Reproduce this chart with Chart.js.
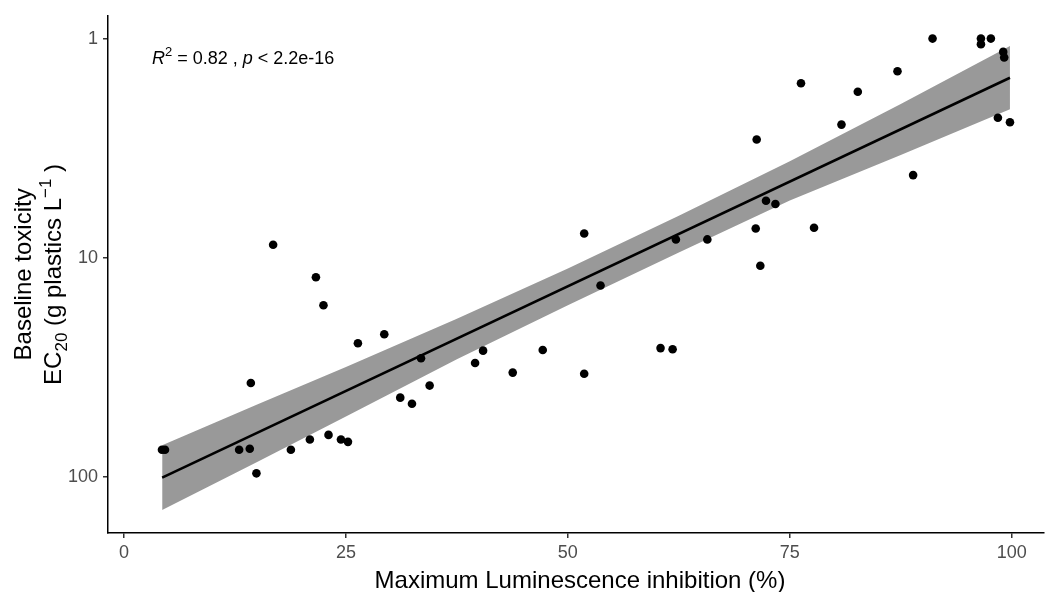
<!DOCTYPE html>
<html>
<head>
<meta charset="utf-8">
<script src="https://cdn.jsdelivr.net/npm/chart.js@4.4.1/dist/chart.umd.min.js"></script>
<style>
  body { margin: 0; background: #fff; }
  #wrap { width: 1048px; height: 592px; }
</style>
</head>
<body>
<div id="wrap"><canvas id="myChart"></canvas></div>
<script>
// measured points: max luminescence inhibition (%) vs EC20 (g plastics / L)
const inhibition = [
    4.28, 4.62, 12.97, 14.17, 14.29, 14.92, 16.80, 18.80, 20.94, 21.62,
    22.47, 23.04, 24.44, 25.23, 26.35, 29.32, 31.12, 32.44, 33.46, 34.43,
    39.55, 40.45, 43.79, 47.17, 51.84, 51.84, 53.68, 60.44, 61.80, 62.17,
    65.71, 71.16, 71.27, 71.68, 72.32, 73.38, 76.26, 77.73, 80.82, 82.66,
    87.13, 88.89, 91.08, 96.53, 96.53, 97.65, 98.44, 99.04, 99.15, 99.80
];
const ec20 = [
    75.4, 75.4, 75.4, 74.6, 37.4, 96.6, 8.73, 75.4, 67.7, 12.3,
    16.5, 64.5, 67.7, 69.4, 24.6, 22.4, 43.6, 46.5, 28.8, 38.4,
    30.3, 26.6, 33.5, 26.4, 7.76, 33.9, 13.4, 25.9, 26.2, 8.26,
    8.26, 7.36, 2.89, 10.9, 5.50, 5.69, 1.60, 7.31, 2.47, 1.75,
    1.41, 4.20, 1.00, 1.00, 1.06, 1.00, 2.30, 1.15, 1.22, 2.41
];

// fitted line and its confidence band
const fitX = [4.3, 99.8];
const fitY = [101, 1.51];
const bandX = [4.3, 15, 25, 37.5, 50, 62.5, 75, 87.5, 99.8];
const bandLow = [72, 46.8, 31.6, 19.0, 11.2, 6.44, 3.63, 1.99, 1.08];
const bandHigh = [142, 85.7, 53.2, 29.1, 16.5, 9.48, 5.49, 3.40, 2.10];

const xTicks = [0, 25, 50, 75, 100];
const yTicks = [1, 10, 100];

const FONT = '"Liberation Sans", Arial, Helvetica, sans-serif';

const pts = (xs, ys) => xs.map((x, i) => ({ x: x, y: ys[i] }));

// draw a run of text pieces (sub/superscripts, italics)
function runsWidth(ctx, runs) {
    let w = 0;
    runs.forEach(r => {
        ctx.font = (r.italic ? 'italic ' : '') + r.size + 'px ' + FONT;
        w += ctx.measureText(r.text).width;
    });
    return w;
}
function drawRuns(ctx, runs, x, y) {
    ctx.textAlign = 'left';
    ctx.textBaseline = 'alphabetic';
    runs.forEach(r => {
        ctx.font = (r.italic ? 'italic ' : '') + r.size + 'px ' + FONT;
        ctx.fillText(r.text, x, y + (r.dy || 0));
        x += ctx.measureText(r.text).width;
    });
}

const textPlugin = {
    id: 'texts',
    afterDraw(chart) {
        const ctx = chart.ctx;
        const area = chart.chartArea;
        ctx.save();
        ctx.fillStyle = '#000';

        // R2 label
        drawRuns(ctx, [
            { text: 'R', size: 18, italic: true },
            { text: '2', size: 13, dy: -8 },
            { text: ' = 0.82 , ', size: 18 },
            { text: 'p', size: 18, italic: true },
            { text: ' < 2.2e-16', size: 18 }
        ], 152, 64);

        // x title
        ctx.font = '24px ' + FONT;
        ctx.textAlign = 'center';
        ctx.fillText('Maximum Luminescence inhibition (%)', 580, 588);

        // y title, two lines
        const cy = (area.top + area.bottom) / 2;
        const line1 = [{ text: 'Baseline toxicity', size: 24 }];
        const line2 = [
            { text: 'EC', size: 24 },
            { text: '20', size: 17, dy: 6 },
            { text: ' (g plastics L', size: 24 },
            { text: '\u22121', size: 17, dy: -10 },
            { text: ' )', size: 24 }
        ];
        ctx.save();
        ctx.translate(31, cy);
        ctx.rotate(-Math.PI / 2);
        drawRuns(ctx, line1, -runsWidth(ctx, line1) / 2, 0);
        ctx.restore();
        ctx.save();
        ctx.translate(61, cy);
        ctx.rotate(-Math.PI / 2);
        drawRuns(ctx, line2, -runsWidth(ctx, line2) / 2, 0);
        ctx.restore();

        ctx.restore();
    }
};

const data = {
    datasets: [{
        label: 'points',
        data: pts(inhibition, ec20),
        backgroundColor: '#000',
        borderWidth: 0,
        pointRadius: 4.3
    }, {
        label: 'fit',
        data: pts(fitX, fitY),
        showLine: true,
        borderColor: '#000',
        borderWidth: 2.6,
        pointRadius: 0,
        fill: false
    }, {
        label: 'band low',
        data: pts(bandX, bandLow),
        showLine: true,
        borderColor: 'rgba(0,0,0,0)',
        backgroundColor: '#999999',
        pointRadius: 0,
        fill: '+1'
    }, {
        label: 'band high',
        data: pts(bandX, bandHigh),
        showLine: true,
        borderColor: 'rgba(0,0,0,0)',
        pointRadius: 0,
        fill: false
    }]
};

const axisGrid = {
    display: true,
    drawOnChartArea: false,
    drawTicks: true,
    tickLength: 5,
    color: '#333',
    lineWidth: 1.5
};

const config = {
    type: 'scatter',
    data,
    options: {
        responsive: true,
        maintainAspectRatio: false,
        animation: false,
        layout: { padding: { top: 11, left: 0, right: 0, bottom: 0 } },
        plugins: {
            legend: { display: false },
            tooltip: { enabled: false }
        },
        scales: {
            x: {
                type: 'linear',
                min: -1.8,
                max: 103.6,
                grid: axisGrid,
                border: { display: true, color: '#000', width: 1.5 },
                ticks: {
                    color: '#4d4d4d',
                    font: { size: 18, family: FONT },
                    padding: 4,
                    maxRotation: 0
                },
                afterBuildTicks: s => { s.ticks = xTicks.map(v => ({ value: v })); },
                afterFit: s => { s.height = 59; }
            },
            y: {
                type: 'logarithmic',
                reverse: true,
                min: 0.787,
                max: 180.9,
                grid: axisGrid,
                border: { display: true, color: '#000', width: 1.5 },
                ticks: {
                    color: '#4d4d4d',
                    font: { size: 18, family: FONT },
                    padding: 5,
                    callback: v => String(v)
                },
                afterBuildTicks: s => { s.ticks = yTicks.map(v => ({ value: v })); },
                afterFit: s => { s.width = 108; }
            }
        }
    },
    plugins: [textPlugin]
};

var myChart = new Chart(
    document.getElementById('myChart'),
    config
);
</script>
</body>
</html>
